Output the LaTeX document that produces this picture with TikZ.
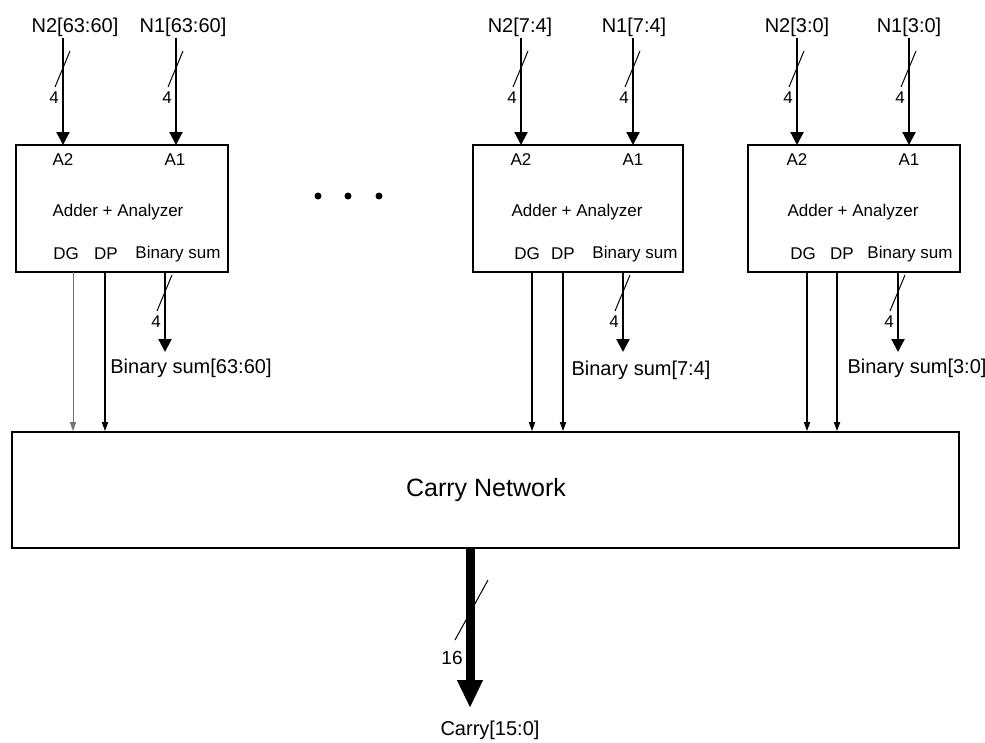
\documentclass[tikz,border=0pt]{standalone}
\usepackage{fontspec}
\setmainfont{Liberation Sans}
\usetikzlibrary{arrows.meta}
\newcommand\myBusMark[4]{% x, ytop, label, name
  \draw[line width=1] (#1-8,#2+36) -- (#1+7,#2);
  \node[buslbl] (#4) at (#1-9,#2+47) {#3};}
\begin{document}
\begin{tikzpicture}[x=1pt,y=-1pt,
  unitbox/.style={draw, line width=1.6pt, inner sep=0pt, minimum width=212pt, minimum height=127pt},
  netbox/.style={draw, line width=1.6pt, inner sep=0pt, minimum width=947pt, minimum height=116pt},
  toplbl/.style={font=\fontsize{20}{22}\selectfont, inner sep=1pt},
  inlbl/.style={font=\fontsize{17}{19}\selectfont, inner sep=1pt},
  buslbl/.style={font=\fontsize{17}{19}\selectfont, inner sep=0pt},
  inarr/.style={line width=2.2pt, -{Triangle[length=13pt,width=13pt]}},
  sig/.style={line width=1.6pt, -{Triangle[length=9pt,width=6pt]}},
  sigg/.style={line width=1pt, draw=black!55, -{Triangle[length=9pt,width=6pt]}},
  bigarr/.style={line width=9pt, -{Triangle[length=28pt,width=24pt]}},
  dot/.style={circle, fill=black, inner sep=0pt, minimum size=7pt}]
\useasboundingbox (0,0) rectangle (985,742);

% ---------- unit boxes ----------
\node[unitbox] (b1) at (122,208.5) {};
\node[unitbox, minimum width=210pt] (b2) at (578,208.5) {};
\node[unitbox] (b3) at (854,208.5) {};
\node[netbox] (cn) at (485.5,490) {};
\node[font=\fontsize{25}{27}\selectfont] (cntxt) at (486,490) {Carry Network};

% ---------- texts inside boxes ----------
\foreach \b/\xa/\xb/\xt/\xdg/\xdp/\xbs in {1/63/175/118/66/106/178, 2/521/633/577/527/563/635, 3/797/909/853/803/842/910}{
  \node[inlbl] (b\b A2) at (\xa,160) {A2};
  \node[inlbl] (b\b A1) at (\xb,160) {A1};
  \node[inlbl] (b\b T) at (\xt,212) {Adder + Analyzer};
  \node[inlbl] (b\b DG) at (\xdg,254) {DG};
  \node[inlbl] (b\b DP) at (\xdp,254) {DP};
  \node[inlbl] (b\b BS) at (\xbs,254) {Binary sum};
}

% ---------- top labels ----------
\node[toplbl] (n2a) at (75,27) {N2[63:60]};
\node[toplbl] (n1a) at (183,27) {N1[63:60]};
\node[toplbl] (n2b) at (520,27) {N2[7:4]};
\node[toplbl] (n1b) at (634,27) {N1[7:4]};
\node[toplbl] (n2c) at (797,27) {N2[3:0]};
\node[toplbl] (n1c) at (909,27) {N1[3:0]};

% ---------- input ports ----------
\coordinate (i1a) at (63,145);  \coordinate (i1b) at (176,145);
\coordinate (i2a) at (521,145); \coordinate (i2b) at (633,145);
\coordinate (i3a) at (797,145); \coordinate (i3b) at (909,145);
\draw[inarr] (n2a.south -| i1a) -- (i1a);
\draw[inarr] (n1a.south -| i1b) -- (i1b);
\draw[inarr] (n2b.south -| i2a) -- (i2a);
\draw[inarr] (n1b.south -| i2b) -- (i2b);
\draw[inarr] (n2c.south -| i3a) -- (i3a);
\draw[inarr] (n1c.south -| i3b) -- (i3b);
\myBusMark{63}{51}{4}{w1a}
\myBusMark{176}{51}{4}{w1b}
\myBusMark{521}{51}{4}{w2a}
\myBusMark{633}{51}{4}{w2b}
\myBusMark{797}{51}{4}{w3a}
\myBusMark{909}{51}{4}{w3b}

% ---------- dots ----------
\node[dot] (d1) at (318,196) {};
\node[dot] (d2) at (348,196) {};
\node[dot] (d3) at (379,196) {};

% ---------- outputs ----------
\coordinate (o1dg) at (73,272);  \coordinate (o1dp) at (105,272); \coordinate (o1bs) at (165,272);
\coordinate (o2dg) at (532,272); \coordinate (o2dp) at (563,272); \coordinate (o2bs) at (623,272);
\coordinate (o3dg) at (807,272); \coordinate (o3dp) at (837,272); \coordinate (o3bs) at (898,272);

\draw[sigg] (o1dg) -- (o1dg |- cn.north);
\draw[sig] (o1dp) -- (o1dp |- cn.north);
\draw[sig] (o2dg) -- (o2dg |- cn.north);
\draw[sig] (o2dp) -- (o2dp |- cn.north);
\draw[sig] (o3dg) -- (o3dg |- cn.north);
\draw[sig] (o3dp) -- (o3dp |- cn.north);

\node[toplbl] (s1) at (191,368) {Binary sum[63:60]};
\node[toplbl] (s2) at (641,370) {Binary sum[7:4]};
\node[toplbl] (s3) at (917,368) {Binary sum[3:0]};
\coordinate (e1) at (165,352); \coordinate (e2) at (623,352); \coordinate (e3) at (898,352);
\draw[inarr] (o1bs) -- (e1);
\draw[inarr] (o2bs) -- (e2);
\draw[inarr] (o3bs) -- (e3);
\myBusMark{165}{275}{4}{w1s}
\myBusMark{623}{275}{4}{w2s}
\myBusMark{898}{275}{4}{w3s}

% ---------- carry output ----------
\node[toplbl] (cy) at (490,730) {Carry[15:0]};
\coordinate (co) at (470,548);
\coordinate (ce) at (470,708);
\draw[bigarr] (co) -- (ce);
\draw[line width=1] (455,640) -- (488,580);
\node[font=\fontsize{19}{21}\selectfont, inner sep=0pt] (w16) at (452,658) {16};
\end{tikzpicture}
\end{document}
